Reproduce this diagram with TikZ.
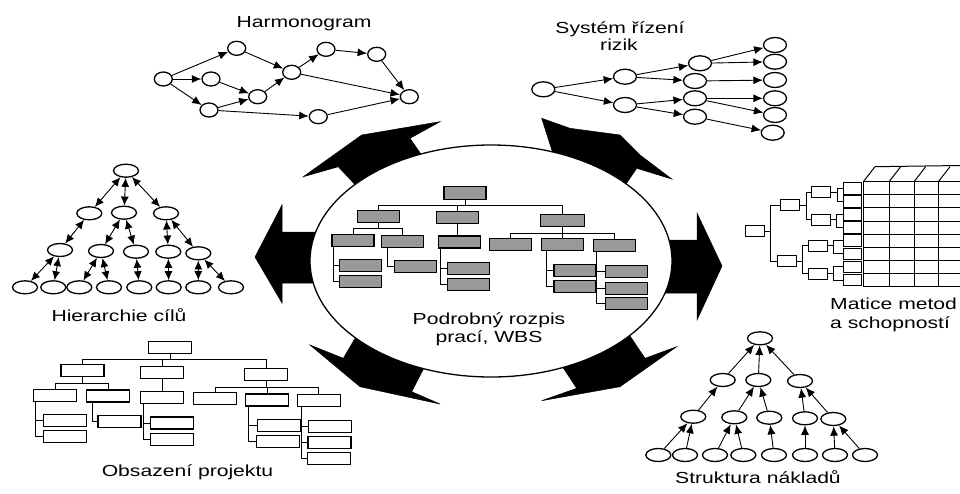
\documentclass[tikz,border=0pt]{standalone}
\usepackage{fontspec}
\setmainfont{Liberation Sans}
\usepackage{graphicx}
\usetikzlibrary{shapes.geometric,arrows.meta}

\tikzset{
  hnode/.style={ellipse, draw, line width=1.3pt, fill=white, inner sep=0pt, minimum width=18pt, minimum height=14pt},
  rnode/.style={ellipse, draw, line width=1.3pt, fill=white, inner sep=0pt, minimum width=23pt, minimum height=15pt},
  tnode/.style={ellipse, draw, line width=1.3pt, fill=white, inner sep=0pt, minimum width=25pt, minimum height=13pt},
  arr/.style={line width=0.9pt, -{Latex[length=9.5pt,width=8pt]}},
  darr/.style={line width=0.9pt, {Latex[length=9pt,width=8pt]}-{Latex[length=9pt,width=8pt]}},
  wbox/.style={draw, line width=1.3pt, fill=black!40, inner sep=0pt, minimum width=42pt, minimum height=12pt},
  obox/.style={draw, line width=1.1pt, fill=white, inner sep=0pt, minimum width=43pt, minimum height=12pt},
  mbox/.style={draw, line width=1pt, fill=white, inner sep=0pt, minimum width=19pt, minimum height=11pt},
  link/.style={line width=0.9pt},
  bigarrow/.style={fill=black, draw=black, line width=0.5pt},
  lbl/.style={font=\fontsize{16}{18}\selectfont, inner sep=0pt, anchor=base},
}
\newcommand{\wide}[1]{\scalebox{1.32}[1]{#1}}

\begin{document}
\begin{tikzpicture}[x=1pt,y=-1pt]
\fill[white] (0,0) rectangle (960,493);
\useasboundingbox (0,0) rectangle (960,493);

% ---- six black arrows around the central ellipse ----
\fill[bigarrow] (303.3,176.7) -- (361.7,135) -- (440,121.7) -- (410,138.3) -- (425,160) -- (360,190) -- (338.3,166.7) -- cycle;
\fill[bigarrow] (541.7,118.3) -- (570,128.3) -- (620,135) -- (640,155) -- (671.7,179) -- (636.7,168.3) -- (622,190) -- (555,160) -- cycle;
\fill[bigarrow] (310,345) -- (343.3,358.3) -- (357,335) -- (427,362) -- (411.7,391.7) -- (440,404) -- (360,386.7) -- cycle;
\fill[bigarrow] (558,360) -- (628,333) -- (645,358.3) -- (676.7,346.7) -- (620,386.7) -- (541.7,400.7) -- (576.7,388.3) -- cycle;
\fill[bigarrow] (255,257) -- (282,205) -- (282,232) -- (320,232) -- (320,283) -- (282,283) -- (282,303) -- cycle;
\fill[bigarrow] (722,266) -- (697,213) -- (697,240) -- (660,240) -- (660,293) -- (697,293) -- (697,320) -- cycle;

% ---- central ellipse ----
\draw[line width=1.3pt, fill=white] (491,261) ellipse [x radius=181, y radius=116];

% ---- WBS inside the ellipse ----
\node[wbox, minimum height=13pt] (w0) at (465,192.7) {};
\node[wbox] (wA) at (378.7,216.2) {};
\node[wbox] (wB) at (457.2,217.2) {};
\node[wbox, minimum width=44pt] (wC) at (562.8,220.8) {};
\node[wbox] (wA1) at (353,240.8) {};
\node[wbox] (wA2) at (402.8,241.2) {};
\node[wbox] (wB1) at (459.2,242) {};
\node[wbox] (wC1) at (510.8,244.2) {};
\node[wbox] (wC2) at (562.8,244.8) {};
\node[wbox] (wC3) at (614.2,245.8) {};
\node[wbox] (wA1a) at (360.5,265.8) {};
\node[wbox] (wA1b) at (360.5,281.7) {};
\node[wbox] (wA2a) at (415.8,266.7) {};
\node[wbox] (wB1a) at (468.7,268.8) {};
\node[wbox] (wB1b) at (468.7,284.5) {};
\node[wbox] (wC2a) at (575,270.8) {};
\node[wbox] (wC2b) at (575,286.5) {};
\node[wbox] (wC3a) at (626.7,271.5) {};
\node[wbox] (wC3b) at (626.7,288.2) {};
\node[wbox] (wC3c) at (626.7,303.5) {};

\draw[link] (w0.south) -- ++(0,6) -| (wA.north);
\draw[link] (w0.south) -- ++(0,6) -| (wB.north);
\draw[link] (w0.south) -- ++(0,6) -| (wC.north);
\draw[link] (wA.south) -- ++(0,6) -| (wA1.north);
\draw[link] (wA.south) -- ++(0,6) -| (wA2.north);
\draw[link] (wB.south) -- (wB.south |- wB1.north);
\draw[link] (wC.south) -- ++(0,6) -| (wC1.north);
\draw[link] (wC.south) -- ++(0,6) -| (wC2.north);
\draw[link] (wC.south) -- ++(0,6) -| (wC3.north);
\draw[link] ([xshift=2pt]wA1.south west) |- (wA1a.west);
\draw[link] ([xshift=2pt]wA1.south west) |- (wA1b.west);
\draw[link] ([xshift=6pt]wA2.south west) |- (wA2a.west);
\draw[link] ([xshift=3pt]wB1.south west) |- (wB1a.west);
\draw[link] ([xshift=3pt]wB1.south west) |- (wB1b.west);
\draw[link] ([xshift=5pt]wC2.south west) |- (wC2a.west);
\draw[link] ([xshift=5pt]wC2.south west) |- (wC2b.west);
\draw[link] ([xshift=4pt]wC3.south west) |- (wC3a.west);
\draw[link] ([xshift=4pt]wC3.south west) |- (wC3b.west);
\draw[link] ([xshift=4pt]wC3.south west) |- (wC3c.west);

\node[lbl] (wbs1) at (489,324.3) {\wide{Podrobný rozpis}};
\node[lbl] (wbs2) at (489,342.7) {\wide{prací, WBS}};

% ---- Harmonogram ----
\node[lbl] (hl) at (304,27.3) {\wide{Harmonogram}};
\node[hnode] (h1) at (163.3,79) {};
\node[hnode] (h2) at (236.7,48.3) {};
\node[hnode] (h3) at (211,79) {};
\node[hnode] (h4) at (209,110) {};
\node[hnode] (h5) at (257.7,96.7) {};
\node[hnode] (h6) at (291.7,72.3) {};
\node[hnode] (h7) at (326,49.3) {};
\node[hnode] (h8) at (376.7,54.3) {};
\node[hnode] (h9) at (409.3,96.7) {};
\node[hnode] (h10) at (318.3,116.7) {};
\draw[arr] (h1) -- (h2);
\draw[arr] (h1) -- (h3);
\draw[arr] (h1) -- (h4);
\draw[arr] (h2) -- (h6);
\draw[arr] (h3) -- (h5);
\draw[arr] (h4) -- (h5);
\draw[arr] (h5) -- (h6);
\draw[arr] (h6) -- (h7);
\draw[arr] (h7) -- (h8);
\draw[arr] (h8) -- (h9);
\draw[arr] (h6) -- (h9);
\draw[arr] (h4) -- (h10);
\draw[arr] (h10) -- (h9);

% ---- Systém řízení rizik ----
\node[lbl] (rl1) at (620,33.3) {\wide{Systém řízení}};
\node[lbl] (rl2) at (619,50.7) {\wide{rizik}};
\node[rnode] (r0) at (543.3,89.3) {};
\node[rnode] (r1) at (625,76.7) {};
\node[rnode] (r2) at (625,105) {};
\node[rnode] (r3) at (700,63.3) {};
\node[rnode] (r4) at (695,81) {};
\node[rnode] (r5) at (695,98.3) {};
\node[rnode] (r6) at (695,116.7) {};
\node[rnode] (l1) at (775,45) {};
\node[rnode] (l2) at (775,61.7) {};
\node[rnode] (l3) at (775,80) {};
\node[rnode] (l4) at (775,98.3) {};
\node[rnode] (l5) at (775,115) {};
\node[rnode] (l6) at (772.7,132.7) {};
\draw[arr] (r0) -- (r1);
\draw[arr] (r0) -- (r2);
\draw[arr] (r1) -- (r3);
\draw[arr] (r1) -- (r4);
\draw[arr] (r2) -- (r5);
\draw[arr] (r2) -- (r6);
\draw[arr] (r3) -- (l1);
\draw[arr] (r3) -- (l2);
\draw[arr] (r4) -- (l3);
\draw[arr] (r5) -- (l4);
\draw[arr] (r5) -- (l5);
\draw[arr] (r6) -- (l6);

% ---- Hierarchie cílů ----
\node[lbl] (gl) at (119,321.7) {\wide{Hierarchie cílů}};
\node[tnode] (g0) at (126,170.7) {};
\node[tnode] (g1) at (89.3,213.3) {};
\node[tnode] (g2) at (124,212.7) {};
\node[tnode] (g3) at (166,213.3) {};
\node[tnode] (g4) at (60,250) {};
\node[tnode] (g5) at (101,251) {};
\node[tnode] (g6) at (136,251.7) {};
\node[tnode] (g7) at (168.3,251.7) {};
\node[tnode] (g8) at (198.3,253.3) {};
\node[tnode] (g9) at (25,287.3) {};
\node[tnode] (g10) at (53.3,287.3) {};
\node[tnode] (g11) at (79.3,287.3) {};
\node[tnode] (g12) at (109,287.3) {};
\node[tnode] (g13) at (139.3,287.3) {};
\node[tnode] (g14) at (168.7,287.3) {};
\node[tnode] (g15) at (198.3,287.3) {};
\node[tnode] (g16) at (231,287.3) {};
\draw[darr] (g0) -- (g1);
\draw[darr] (g0) -- (g2);
\draw[darr] (g0) -- (g3);
\draw[darr] (g1) -- (g4);
\draw[darr] (g2) -- (g5);
\draw[darr] (g2) -- (g6);
\draw[darr] (g3) -- (g7);
\draw[darr] (g3) -- (g8);
\draw[darr] (g4) -- (g9);
\draw[darr] (g4) -- (g10);
\draw[darr] (g5) -- (g11);
\draw[darr] (g5) -- (g12);
\draw[darr] (g6) -- (g13);
\draw[darr] (g7) -- (g14);
\draw[darr] (g8) -- (g15);
\draw[darr] (g8) -- (g16);

% ---- Matice metod a schopností ----
\node[lbl, anchor=base west] (ml1) at (830,309.3) {\wide{Matice metod}};
\node[lbl, anchor=base west] (ml2) at (830,328) {\wide{a schopností}};
\node[mbox] (m0) at (754.5,231) {};
\node[mbox] (m1) at (790,205) {};
\node[mbox] (m2) at (786.7,261) {};
\node[mbox] (m3) at (821,192) {};
\node[mbox] (m4) at (820.5,219.5) {};
\node[mbox] (m5) at (817.8,245.7) {};
\node[mbox] (m6) at (817.8,273.8) {};
\foreach \k in {1,...,8}{
  \node[mbox, minimum width=18pt, minimum height=11.5pt] (k\k) at (852.5,{181.7+13.1*(\k-0.5)}) {};
}
\draw[link] (m0.east) -- ++(6,0) coordinate (b0);
\draw[link] (b0) |- (m1.west);
\draw[link] (b0) |- (m2.west);
\draw[link] (m1.east) -- ++(6,0) coordinate (b1);
\draw[link] (b1) |- (m3.west);
\draw[link] (b1) |- (m4.west);
\draw[link] (m2.east) -- ++(6,0) coordinate (b2);
\draw[link] (b2) |- (m5.west);
\draw[link] (b2) |- (m6.west);
\draw[link] (m3.east) -- ++(6,0) coordinate (b3);
\draw[link] (b3) |- (k1.west);
\draw[link] (b3) |- (k2.west);
\draw[link] (m4.east) -- ++(6,0) coordinate (b4);
\draw[link] (b4) |- (k3.west);
\draw[link] (b4) |- (k4.west);
\draw[link] (m5.east) -- ++(6,0) coordinate (b5);
\draw[link] (b5) |- (k5.west);
\draw[link] (b5) |- (k6.west);
\draw[link] (m6.east) -- ++(6,0) coordinate (b6);
\draw[link] (b6) |- (k7.west);
\draw[link] (b6) |- (k8.west);
% matrix grid with a raised top row
\foreach \k in {0,...,8}{
  \draw[line width=1pt] (863.3,{181.7+13.1*\k}) -- (960,{181.7+13.1*\k});
}
\foreach \xx in {863.3,889,914,938.3}{
  \draw[line width=1pt] (\xx,181.7) -- (\xx,286.5);
  \draw[line width=1pt] (\xx,181.7) -- ++(11.7,-15);
}
\draw[line width=1pt] (875,166.7) -- (960,165.5);

% ---- Obsazení projektu ----
\node[lbl] (ol) at (187.5,476.7) {\wide{Obsazení projektu}};
\node[obox] (o0) at (170,347.5) {};
\node[obox] (oA) at (82.5,370.5) {};
\node[obox] (oB) at (162,372.3) {};
\node[obox] (oC) at (266,374.5) {};
\node[obox] (oA1) at (55,395.5) {};
\node[obox] (oA2) at (108.3,396) {};
\node[obox] (oB1) at (162,397.5) {};
\node[obox] (oC1) at (215,398.3) {};
\node[obox] (oC2) at (267,400) {};
\node[obox] (oC3) at (318.7,400.8) {};
\node[obox] (oA1a) at (65.3,420.8) {};
\node[obox] (oA1b) at (64.7,436.7) {};
\node[obox] (oA2a) at (119.5,421.8) {};
\node[obox] (oB1a) at (172.3,423) {};
\node[obox] (oB1b) at (172.3,439.2) {};
\node[obox] (oC2a) at (278.7,425.5) {};
\node[obox] (oC2b) at (277.7,441.5) {};
\node[obox] (oC3a) at (330,426.2) {};
\node[obox] (oC3b) at (329.5,442.5) {};
\node[obox] (oC3c) at (329.2,458.5) {};
\draw[link] (o0.south) -- ++(0,5) -| (oA.north);
\draw[link] (o0.south) -- ++(0,5) -| (oB.north);
\draw[link] (o0.south) -- ++(0,5) -| (oC.north);
\draw[link] (oA.south) -- ++(0,6.5) -| (oA1.north);
\draw[link] (oA.south) -- ++(0,6.5) -| (oA2.north);
\draw[link] (oB.south) -- (oB.south |- oB1.north);
\draw[link] (oC.south) -- ++(0,6) -| (oC1.north);
\draw[link] (oC.south) -- ++(0,6) -| (oC2.north);
\draw[link] (oC.south) -- ++(0,6) -| (oC3.north);
\draw[link] ([xshift=2pt]oA1.south west) |- (oA1a.west);
\draw[link] ([xshift=2pt]oA1.south west) |- (oA1b.west);
\draw[link] ([xshift=6pt]oA2.south west) |- (oA2a.west);
\draw[link] ([xshift=3pt]oB1.south west) |- (oB1a.west);
\draw[link] ([xshift=3pt]oB1.south west) |- (oB1b.west);
\draw[link] ([xshift=3pt]oC2.south west) |- (oC2a.west);
\draw[link] ([xshift=3pt]oC2.south west) |- (oC2b.west);
\draw[link] ([xshift=5pt]oC3.south west) |- (oC3a.west);
\draw[link] ([xshift=5pt]oC3.south west) |- (oC3b.west);
\draw[link] ([xshift=5pt]oC3.south west) |- (oC3c.west);

% ---- Struktura nákladů ----
\node[lbl] (sl) at (758,483.3) {\wide{Struktura nákladů}};
\node[tnode] (s0) at (760,338.3) {};
\node[tnode] (s1) at (722.7,380) {};
\node[tnode] (s2) at (758.3,380) {};
\node[tnode] (s3) at (800,381) {};
\node[tnode] (s4) at (693.3,416.7) {};
\node[tnode] (s5) at (734.3,417.3) {};
\node[tnode] (s6) at (769.3,417.7) {};
\node[tnode] (s7) at (805,418.3) {};
\node[tnode] (s8) at (833.3,419) {};
\node[tnode] (s9) at (658.3,455) {};
\node[tnode] (s10) at (685,455) {};
\node[tnode] (s11) at (715,455) {};
\node[tnode] (s12) at (743.3,455) {};
\node[tnode] (s13) at (774,455) {};
\node[tnode] (s14) at (805,455) {};
\node[tnode] (s15) at (835,455) {};
\node[tnode] (s16) at (865,455) {};
\draw[arr] (s1) -- (s0);
\draw[arr] (s2) -- (s0);
\draw[arr] (s3) -- (s0);
\draw[arr] (s4) -- (s1);
\draw[arr] (s5) -- (s2);
\draw[arr] (s6) -- (s2);
\draw[arr] (s7) -- (s3);
\draw[arr] (s8) -- (s3);
\draw[arr] (s9) -- (s4);
\draw[arr] (s10) -- (s4);
\draw[arr] (s11) -- (s5);
\draw[arr] (s12) -- (s5);
\draw[arr] (s13) -- (s6);
\draw[arr] (s14) -- (s7);
\draw[arr] (s15) -- (s8);
\draw[arr] (s16) -- (s8);
\end{tikzpicture}
\end{document}
